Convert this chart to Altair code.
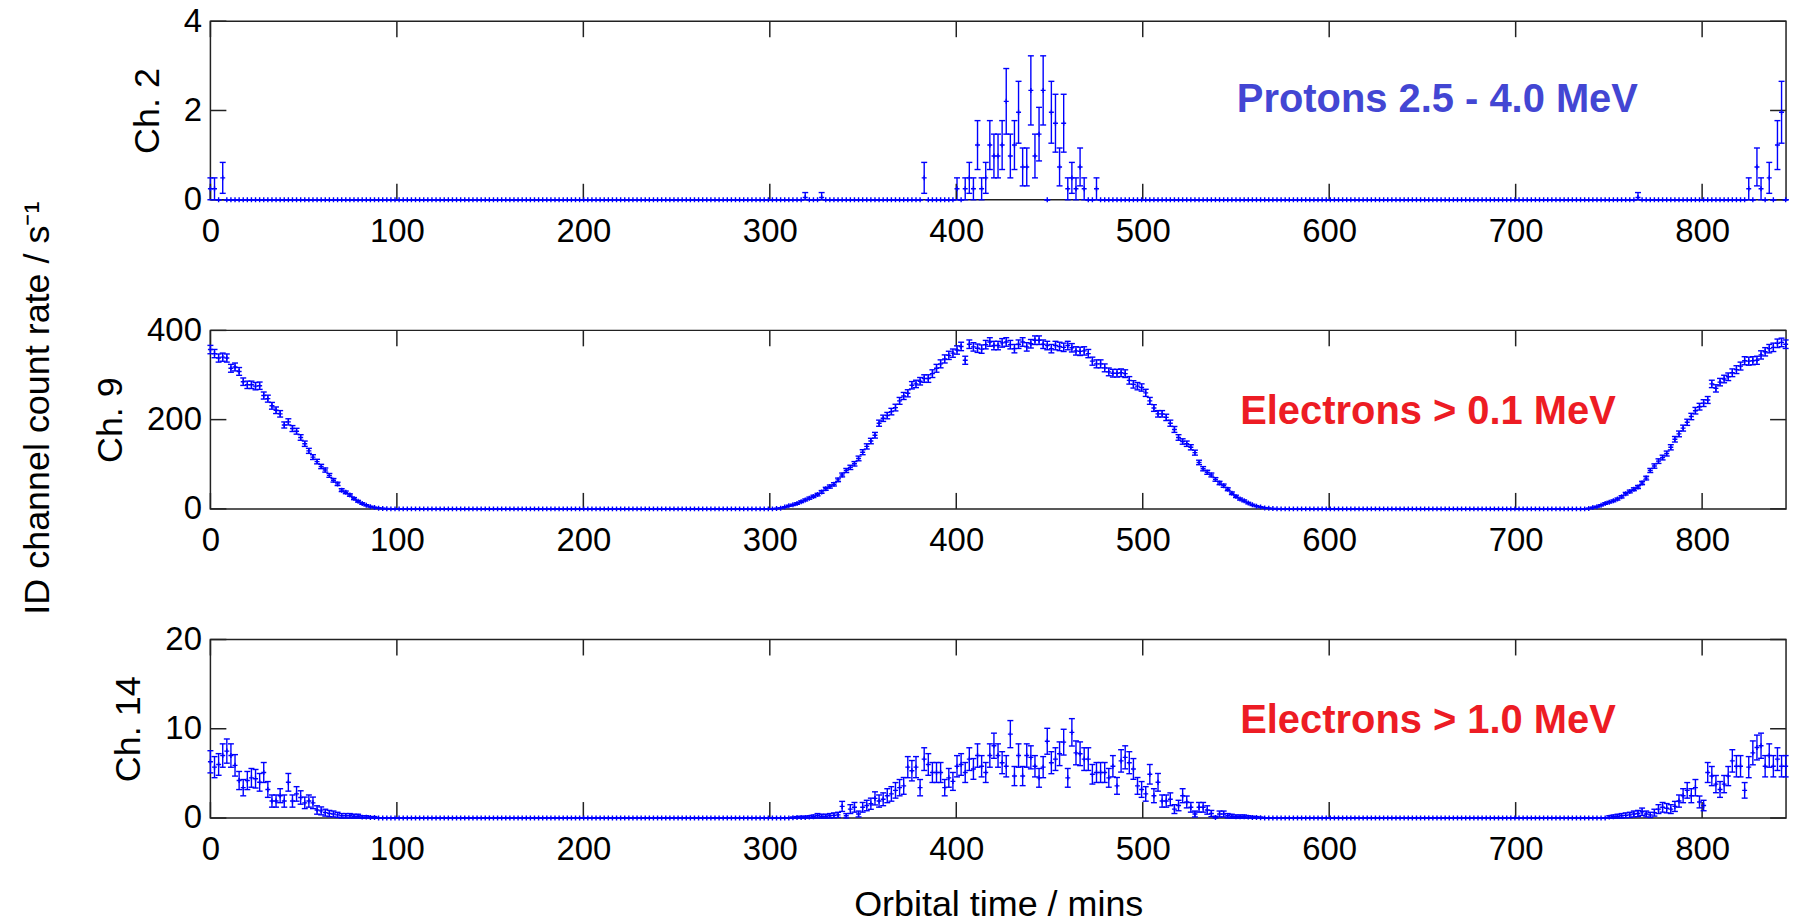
import math
import altair as alt
import pandas as pd

# ---------------- data ----------------
DT = 2.2          # minutes between samples
N = 385
T_ACC = 4.08      # s accumulation per sample -> Poisson error bars
X_TICKS = [0, 100, 200, 300, 400, 500, 600, 700, 800]
X_MAX = 845

# Ch. 2 - Protons 2.5 - 4.0 MeV  (count rate / s^-1)
ch2 = ([0.245, 0.245, 0, 0.49] + [0] * 141
       + [0.05, 0, 0, 0, 0.05]
       + [0] * 24
       + [0.49] + [0] * 7
       + [0.245, 0, 0.245, 0.49, 0.245, 1.225, 0.245, 0.49, 1.225, 0.98,
          0.98, 1.225, 2.205, 0.98, 1.225, 1.96, 0.735, 0.735, 2.45, 0.98,
          1.47, 2.45, 0, 1.96, 1.715, 0.735, 1.715, 0.245, 0.49, 0.245,
          0.735, 0.245, 0, 0, 0.245]
       + [0] * 131
       + [0.05] + [0] * 26
       + [0.245, 0, 0.735, 0.245, 0, 0.49, 0, 1.225, 1.96, 0])

# Ch. 9 - Electrons > 0.1 MeV
ch9 = ([357, 348, 338, 340, 338, 315, 318, 308, 285, 278,
        278, 275, 276, 254, 247, 231, 221, 213, 188, 195,
        180, 174, 160, 146, 130, 116, 106, 95, 87, 75,
        64, 56, 42, 37, 31, 23, 17, 12, 8, 5,
        3, 1.5, 0.8, 0.4]
       + [0] * 94
       + [0.8, 1.5]
       + [4, 7, 9, 12, 16, 20, 24, 28, 32, 38,
          45, 50, 55, 65, 76, 86, 93, 101, 113, 127,
          140, 152, 165, 192, 203, 209, 218, 227, 242, 253,
          259, 277, 280, 286, 292, 292, 303, 315, 325, 336,
          344, 349, 356, 364, 333, 369, 363, 360, 358, 368,
          374, 366, 366, 372, 374, 368, 359, 369, 374, 363,
          370, 378, 378, 369, 366, 359, 366, 364, 362, 366,
          361, 354, 353, 354, 348, 331, 325, 325, 316, 307,
          304, 304, 305, 303, 288, 279, 275, 272, 260, 242,
          226, 213, 213, 205, 192, 178, 160, 151, 146, 138,
          126, 104, 90, 82, 76, 66, 58, 52, 44, 35,
          28, 22, 18, 13, 9, 6, 4, 2.2, 1.2, 0.6,
          0.3]
       + [0] * 75
       + [1, 3, 5, 8, 12, 15, 18, 22, 27, 34,
          39, 44, 49, 58, 69, 86, 96, 107, 115, 124,
          138, 156, 168, 181, 194, 207, 220, 229, 237, 244,
          280, 270, 284, 291, 296, 305, 312, 320, 332, 331,
          332, 333, 345, 352, 359, 362, 371, 373, 369])

# Ch. 14 - Electrons > 1.0 MeV
ch14 = ([6.3, 5.7, 6.0, 7.0, 7.5, 7.0, 5.9, 4.2, 3.4, 4.2,
         4.5, 4.4, 4.0, 5.1, 3.2, 1.9, 1.9, 2.5, 1.9, 4.0,
         1.9, 2.7, 2.3, 1.7, 1.9, 1.7, 0.9, 0.8, 0.6, 0.5,
         0.45, 0.35, 0.25, 0.25, 0.25, 0.2, 0.2, 0.1, 0.1, 0.05,
         0.05]
        + [0] * 101
        + [0.03, 0.05, 0.07, 0.07, 0.1, 0.15, 0.25, 0.2,
           0.2, 0.25, 0.3, 0.35, 1.3, 0.25, 1.0, 1.2, 0.45, 1.2,
           1.4, 1.6, 2.2, 1.9, 2.1, 2.5, 2.7, 3.1, 3.4, 3.6,
           5.7, 5.3, 5.7, 3.4, 6.6, 6.0, 5.1, 5.1, 5.1, 3.4,
           4.5, 4.1, 5.8, 6.0, 5.1, 6.6, 5.5, 7.0, 5.8, 5.1,
           7.0, 8.1, 7.0, 6.2, 5.8, 9.4, 4.7, 7.0, 4.7, 7.0,
           6.8, 5.8, 4.5, 5.7, 8.6, 6.2, 6.6, 7.2, 8.5, 4.5,
           9.6, 7.3, 7.2, 6.6, 6.6, 4.9, 5.1, 5.1, 5.1, 4.5,
           5.8, 3.6, 6.4, 6.8, 6.2, 5.5, 3.6, 3.2, 2.7, 4.9,
           2.5, 4.0, 1.9, 1.9, 2.1, 1.0, 1.4, 2.5, 1.8, 1.2,
           0.45, 1.2, 1.2, 0.9, 0.5, 0.07, 0.45, 0.45, 0.25, 0.2,
           0.15, 0.15, 0.15, 0.1, 0.07, 0.05, 0.03]
        + [0] * 84
        + [0.1, 0.15, 0.2, 0.25, 0.3, 0.35, 0.45, 0.5, 0.7,
           0.45, 0.35, 0.6, 1.0, 1.2, 1.1, 1.0, 1.3, 1.9, 2.5,
           3.1, 2.5, 3.4, 1.8, 1.4, 5.1, 4.7, 3.8, 3.2, 3.8,
           4.7, 6.4, 5.8, 5.8, 3.1, 5.7, 7.3, 7.9, 8.1, 5.8,
           7.0, 5.8, 6.6, 5.8, 5.8])

assert len(ch2) == N and len(ch9) == N and len(ch14) == N
times = [round(i * DT, 2) for i in range(N)]

PANELS = [
    dict(name="Ch. 2", values=ch2, ymax=4, yticks=[0, 2, 4],
         label="Protons 2.5 - 4.0 MeV", lx=658, ly=2.23, color="#4346D3"),
    dict(name="Ch. 9", values=ch9, ymax=400, yticks=[0, 200, 400],
         label="Electrons > 0.1 MeV", lx=653, ly=217, color="#ED1C24"),
    dict(name="Ch. 14", values=ch14, ymax=20, yticks=[0, 10, 20],
         label="Electrons > 1.0 MeV", lx=653, ly=10.9, color="#ED1C24"),
]

# ---------------- style ----------------
W, H = 1580, 179
BLUE = "#0000FF"
FRAME = "#222222"
FONT = "Liberation Sans"
TICK_LEN = 16
PLUS = "M-1,0L1,0M0,-1L0,1"
DASH = "M-1,0L1,0"


def panel(p, bottom=False):
    rows = []
    for t, v in zip(times, p["values"]):
        e = math.sqrt(v / T_ACC)
        rows.append(dict(t=t, v=v, lo=max(v - e, 0.0), hi=v + e))
    df = pd.DataFrame(rows)

    xs = alt.Scale(domain=[0, X_MAX], nice=False, zero=False)
    ys = alt.Scale(domain=[0, p["ymax"]], nice=False)
    xaxis = alt.Axis(values=X_TICKS, title="Orbital time / mins" if bottom else None,
                     format="d")
    yaxis = alt.Axis(values=p["yticks"], title=p["name"], format="d")

    def X(f):
        return alt.X(f, type="quantitative", scale=xs, axis=xaxis)

    def Y(f):
        return alt.Y(f, type="quantitative", scale=ys, axis=yaxis)

    base = alt.Chart(df)
    bars = base.mark_rule(color=BLUE, strokeWidth=1.4).encode(
        x=X("t"), y=Y("lo"), y2="hi:Q")
    cap_lo = base.mark_point(shape=DASH, size=36, filled=False, color=BLUE,
                             strokeWidth=1.4, opacity=1).encode(x=X("t"), y=Y("lo"))
    cap_hi = base.mark_point(shape=DASH, size=36, filled=False, color=BLUE,
                             strokeWidth=1.4, opacity=1).encode(x=X("t"), y=Y("hi"))
    pts = base.mark_point(shape=PLUS, size=25, filled=False, color=BLUE,
                          strokeWidth=1.4, opacity=1).encode(x=X("t"), y=Y("v"))

    xt = alt.Chart(pd.DataFrame({"t": X_TICKS}))
    yt = alt.Chart(pd.DataFrame({"lo": p["yticks"]}))
    tick_style = dict(color=FRAME, strokeWidth=1.5)
    xt_bot = xt.mark_rule(**tick_style).encode(
        x=X("t"), y=alt.value(H), y2=alt.value(H - TICK_LEN))
    xt_top = xt.mark_rule(**tick_style).encode(
        x=X("t"), y=alt.value(0), y2=alt.value(TICK_LEN))
    yt_l = yt.mark_rule(**tick_style).encode(
        y=Y("lo"), x=alt.value(0), x2=alt.value(TICK_LEN))
    yt_r = yt.mark_rule(**tick_style).encode(
        y=Y("lo"), x=alt.value(W - TICK_LEN), x2=alt.value(W))

    ann = alt.Chart(pd.DataFrame({"t": [p["lx"]], "lo": [p["ly"]], "s": [p["label"]]})).mark_text(
        font=FONT, fontSize=40, fontWeight="bold", color=p["color"],
        align="center", baseline="middle").encode(x=X("t"), y=Y("lo"), text="s:N")

    layers = [bars, xt_bot, xt_top, yt_l, yt_r, cap_lo, cap_hi, pts, ann]
    return alt.layer(*layers).properties(width=W, height=H)


p1 = panel(PANELS[0])
p2 = panel(PANELS[1])
p3 = panel(PANELS[2], bottom=True)

# shared left-hand label, attached to the middle panel
id_label = alt.Chart(pd.DataFrame({"s": ["ID channel count rate / s\u207b\u00b9"]})).mark_text(
    font=FONT, fontSize=36, color="black", angle=270, align="center",
    baseline="alphabetic").encode(
    x=alt.value(-162), y=alt.value(78), text="s:N")
p2 = alt.layer(p2, id_label)

chart = alt.vconcat(p1, p2, p3, spacing=131, bounds="flush").properties(
    padding={"left": 19, "top": 3, "right": 5, "bottom": 5}
).configure(font=FONT).configure_view(
    stroke=FRAME, strokeWidth=1.5
).configure_axis(
    domain=False, ticks=False, tickSize=0, grid=False,
    labelFont=FONT, labelFontSize=33, labelColor="black",
    labelFlush=False, labelOverlap=False, labelPadding=9,
    titleFont=FONT, titleFontSize=36, titleFontWeight="normal", titleColor="black",
).configure_axisX(labelPadding=16, titlePadding=21).configure_axisY(titlePadding=17)

chart.save("out.html", embed_options={"renderer": "svg", "actions": False})
